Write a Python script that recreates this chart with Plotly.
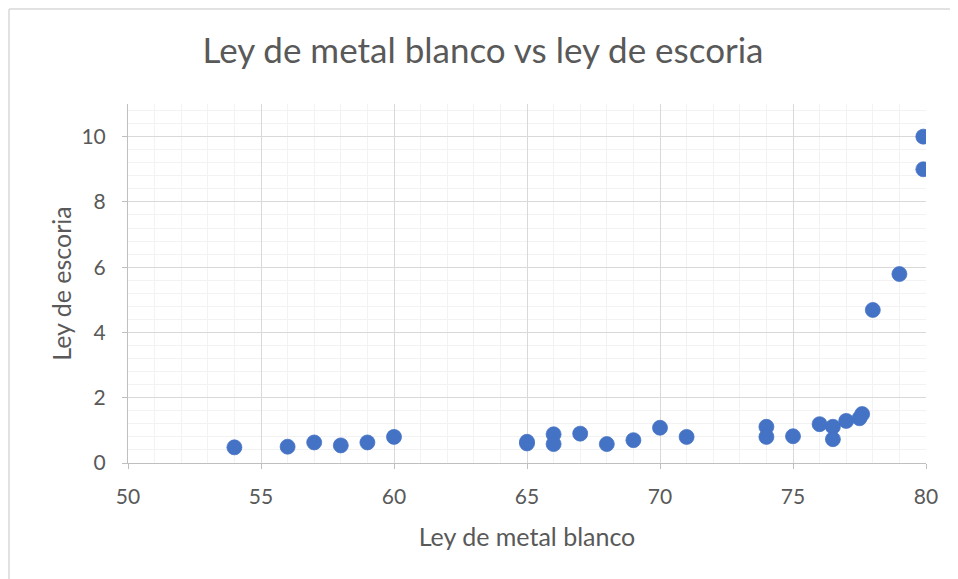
import plotly.graph_objects as go

# Ley de metal blanco (x) vs ley de escoria (y)
metal_blanco = [54, 56, 57, 58, 59, 60,
                65, 65, 66, 66, 67, 68, 69, 70, 71,
                74, 74, 75, 76, 76.5, 76.5, 77, 77.5, 77.6,
                78, 79, 79.9, 79.9]
escoria = [0.48, 0.5, 0.63, 0.54, 0.63, 0.8,
           0.6, 0.65, 0.88, 0.58, 0.9, 0.58, 0.7, 1.08, 0.8,
           1.11, 0.8, 0.82, 1.19, 1.11, 0.73, 1.29, 1.37, 1.5,
           4.69, 5.79, 10.0, 9.0]

# page has an 8px body margin, so the figure is sized/offset to land the
# plot area where the reference has it
W, H = 950, 571
L, R, T, B = 120, 32, 96, 116
FONT = "Lato, Calibri, sans-serif"
TEXT = "#595959"

fig = go.Figure()
fig.add_trace(
    go.Scatter(
        x=metal_blanco,
        y=escoria,
        mode="markers",
        marker=dict(size=15, color="#4472C4", line=dict(color="#4472C4", width=0.75)),
        showlegend=False,
    )
)

axis_common = dict(
    showgrid=True,
    gridcolor="#d9d9d9",
    gridwidth=1,
    showline=True,
    linecolor="#bfbfbf",
    linewidth=1,
    ticks="outside",
    ticklen=5,
    tickcolor="#bfbfbf",
    zeroline=False,
    tickfont=dict(family=FONT, size=21, color=TEXT),
)

fig.update_xaxes(
    range=[50, 80], dtick=5, tick0=50,
    ticklabelstandoff=10,
    minor=dict(dtick=1, showgrid=True, gridcolor="#f2f2f2", gridwidth=1),
    title=dict(text="Ley de metal blanco", font=dict(family=FONT, size=25, color=TEXT), standoff=21),
    **axis_common,
)
fig.update_yaxes(
    range=[0, 11], dtick=2, tick0=0,
    ticklabelstandoff=12,
    minor=dict(dtick=0.4, showgrid=True, gridcolor="#f2f2f2", gridwidth=1),
    title=dict(text="Ley de escoria", font=dict(family=FONT, size=25, color=TEXT), standoff=2),
    **axis_common,
)

# chart-area border (only the top and left edges fall inside the picture)
pw, ph = W - L - R, H - T - B
fig.add_shape(
    type="line", xref="paper", yref="paper",
    x0=(1 - L) / pw, x1=1 + R / pw, y0=1 + (T - 1) / ph, y1=1 + (T - 1) / ph,
    line=dict(color="#d9d9d9", width=1.5),
)
fig.add_shape(
    type="line", xref="paper", yref="paper",
    x0=(1 - L) / pw, x1=(1 - L) / pw, y0=-B / ph, y1=1 + (T - 1) / ph,
    line=dict(color="#d9d9d9", width=1.5),
)

fig.update_layout(
    width=W,
    height=H,
    margin=dict(l=L, r=R, t=T, b=B),
    paper_bgcolor="white",
    plot_bgcolor="white",
    title=dict(
        text="Ley de metal blanco vs ley de escoria",
        x=0.5, xanchor="center", y=1 - 43 / H, yanchor="middle",
        font=dict(family=FONT, size=35, color=TEXT),
    ),
)

fig.write_html("out.html")
